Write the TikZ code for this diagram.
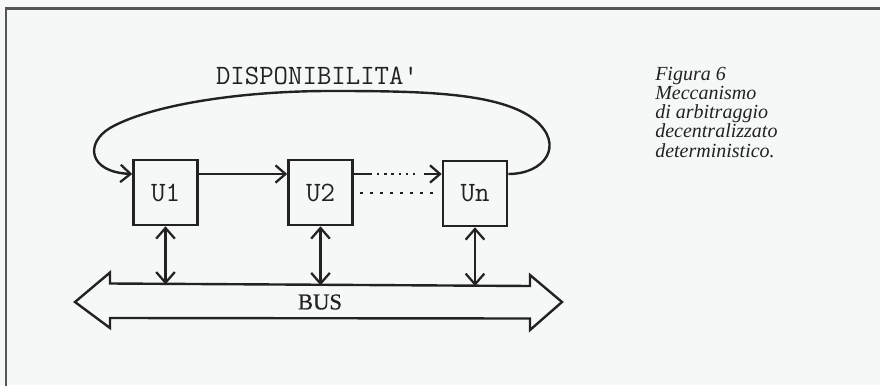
\documentclass[tikz,border=0pt]{standalone}
\usepackage{fontspec}
\setmainfont{Liberation Serif}
\usetikzlibrary{arrows.meta}
\definecolor{paper}{HTML}{F6F8F8}
\definecolor{ink}{HTML}{222222}
\definecolor{frame}{HTML}{555555}

\begin{document}
\begin{tikzpicture}[x=0.75pt,y=-0.75pt,
  wire/.style={draw=ink, line width=1.8pt},
  barb/.style={-{Straight Barb[length=7.5pt,width=13pt,line width=1.7pt]}},
  twobarb/.style={{Straight Barb[length=8pt,width=14pt,line width=1.7pt]}-{Straight Barb[length=8pt,width=14pt,line width=1.7pt]}},
  monotext/.style={text=ink, font=\ttfamily\addfontfeature{FakeBold=0.4}\fontsize{21}{21}\selectfont},
  unitbox/.style={draw=ink, line width=1.9pt, inner sep=0pt,
    minimum width=48pt, minimum height=48.75pt, monotext},
  dots/.style={draw=ink, line width=1.8pt},
  capline/.style={anchor=base west, inner sep=0pt, text=ink,
    font=\itshape\fontsize{15}{15}\selectfont}
]
% page and frame
\useasboundingbox (0,0) rectangle (880,385);
\fill[paper] (0,0) rectangle (880,385);
\draw[frame, line width=1.6pt] (6,386) -- (6,8.5) -- (881,8.5);

% the units
\node[unitbox] (U1) at (165.5,192.5) {U1};
\node[unitbox] (U2) at (320.5,192.5) {U2};
\node[unitbox] (Un) at (475,193.5) {Un};

% level of the daisy chain
\coordinate (t) at (0,174);

% availability signal looping back from the last unit to the first
\node[monotext] (disp) at (317,76) {DISPONIBILITA'};
\draw[wire, barb] (Un.east |- t)
  .. controls (545,174) and (565,145) .. (535,120)
  .. controls (500,92) and (420,91) .. (330,91)
  .. controls (240,91) and (150,105) .. (110,128)
  .. controls (85,143) and (88,172) .. (U1.west |- t);

% chain U1 -> U2 -> ... -> Un
\draw[wire, barb] (U1.east |- t) -- (U2.west |- t);
\coordinate (d1) at (372,174);
\coordinate (d2) at (377,174);
\coordinate (d3) at (419,174);
\coordinate (d4) at (424,174);
\draw[wire] (U2.east |- t) -- (d1);
\draw[dots, dash pattern=on 1.8pt off 3.6pt] (d2) -- (d3);
\draw[wire, barb] (d4) -- (Un.west |- t);
\coordinate (e1) at (360,193);
\coordinate (e2) at (434,193);
\draw[dots, dash pattern=on 2pt off 5.5pt] (e1) -- (e2);

% the bus
\draw[wire, line join=miter] (75,302) -- (110,272.5) -- (110,283.5) -- (530,286)
  -- (530,275) -- (562,302) -- (530,330) -- (530,318.5) -- (110,318)
  -- (110,328) -- cycle;
\node[font=\addfontfeature{FakeBold=0.6}\fontsize{17}{17}\selectfont, text=ink] (bus) at (320,302) {BUS};

% bus taps
\coordinate (b1) at (165.5,284.4);
\coordinate (b2) at (320.5,285.3);
\coordinate (bn) at (475,286);
\draw[wire, twobarb] (U1.south) -- (b1);
\draw[wire, twobarb] (U2.south) -- (b2);
\draw[wire, twobarb] (Un.south) -- (bn);

% caption
\node[capline] (cap1) at (655,80) {Figura 6};
\node[capline] (cap2) at (655,99) {Meccanismo};
\node[capline] (cap3) at (655,118) {di arbitraggio};
\node[capline] (cap4) at (655,137.5) {decentralizzato};
\node[capline] (cap5) at (655,157) {deterministico.};
\end{tikzpicture}
\end{document}
